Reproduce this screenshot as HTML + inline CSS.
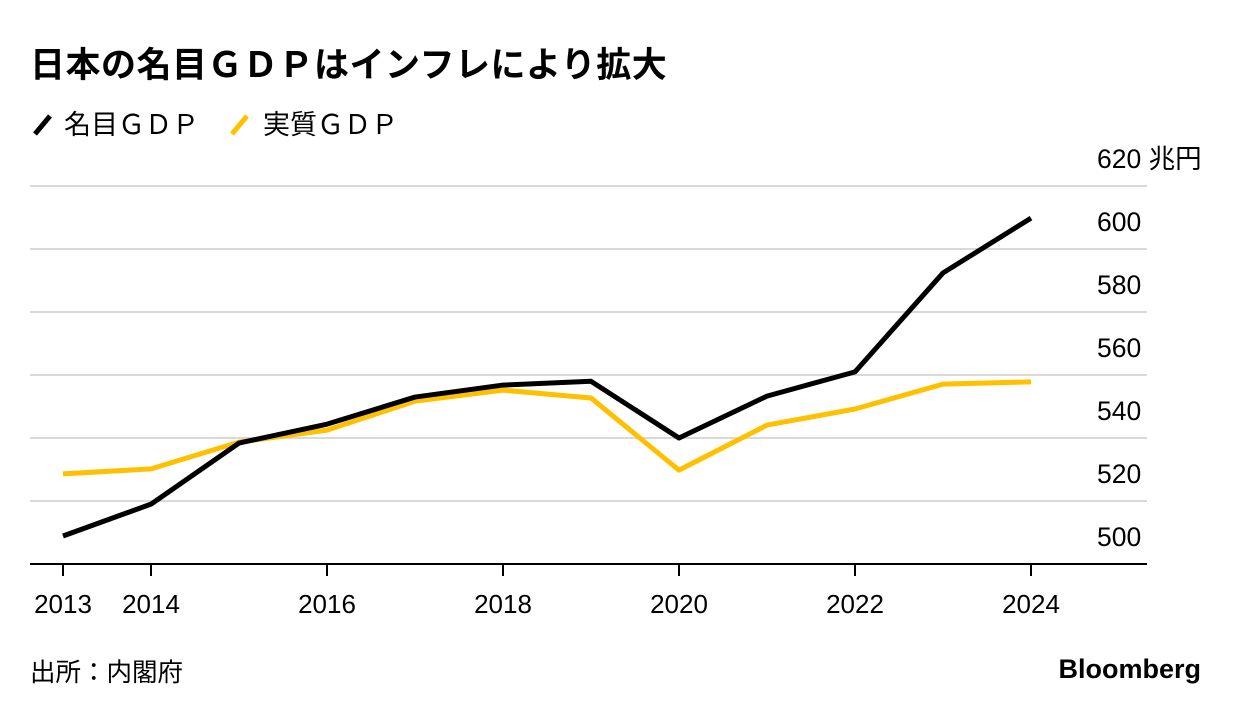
<!DOCTYPE html>
<html><head><meta charset="utf-8">
<style>
body{margin:0;background:#fff;font-family:"Liberation Sans","Noto Sans CJK JP",sans-serif;}
#wrap{position:relative;width:1240px;height:714px;overflow:hidden;}
</style></head>
<body>
<div id="wrap">
<svg id="chart" width="1240" height="714"></svg>
</div>
<script>
const years = [2013,2014,2015,2016,2017,2018,2019,2020,2021,2022,2023,2024];
const nominalGDP = [508.9,519,538.4,544.4,553,556.8,558,540,553.3,561,592.4,609.8];
const realGDP = [528.6,530.2,538.7,542.5,551.7,555.2,552.7,529.8,544.1,549.2,557.1,557.8];
const yTicks = [500,520,540,560,580,600,620];
const xTickYears = [2013,2014,2016,2018,2020,2022,2024];

const NS="http://www.w3.org/2000/svg";
const svg=document.getElementById('chart');
function x(yr){return 63+(yr-2013)*88.0;}
function y(v){return 564-(v-500)*3.15;}
function mk(tag,attrs,parent){const e=document.createElementNS(NS,tag);for(const k in attrs)e.setAttribute(k,attrs[k]);(parent||svg).appendChild(e);return e;}
function txt(s,attrs){const t=mk('text',attrs);t.textContent=s;return t;}

let t=txt('日本の名目ＧＤＰはインフレにより拡大',{x:30,y:77,'font-size':35,'font-weight':'bold',fill:'#000','letter-spacing':0.5});



let l1=mk('line',{x1:35,y1:134,x2:50,y2:116,stroke:'#000','stroke-width':5});


t=txt('名目ＧＤＰ',{x:64,y:134,'font-size':27,fill:'#000'});


let l2=mk('line',{x1:232,y1:134,x2:247,y2:116,stroke:'#ffc000','stroke-width':5});


t=txt('実質ＧＤＰ',{x:263,y:134,'font-size':27,fill:'#000'});



yTicks.forEach(v=>{
  if(v>500){
    const g=mk('line',{x1:30,x2:1147,y1:y(v),y2:y(v),stroke:'#d9d9d9','stroke-width':2});
    
    
  }
  const lab=txt(v===620?'620 兆円':String(v),{x:1097,y:y(v)-18,'font-size':26.5,fill:'#000'});
  
  
});
const ax=mk('line',{x1:30,x2:1147,y1:564,y2:564,stroke:'#000','stroke-width':2});



xTickYears.forEach(yr=>{
  const tk=mk('line',{x1:x(yr),x2:x(yr),y1:564,y2:576,stroke:'#000','stroke-width':2});
  
  
  const lab=txt(String(yr),{x:x(yr),y:613,'font-size':26,'text-anchor':'middle',fill:'#000'});
  
  
});

function series(vals,color,name){
  const d=vals.map((v,i)=>(i?'L':'M')+x(years[i])+','+y(v)).join(' ');
  const p=mk('path',{d:d,fill:'none',stroke:color,'stroke-width':5,'stroke-linejoin':'round'});
  
  
}
series(realGDP,'#ffc000','real-gdp-line');
series(nominalGDP,'#000','nominal-gdp-line');

t=txt('出所：内閣府',{x:30,y:681,'font-size':25.5,fill:'#000'});


t=txt('Bloomberg',{x:1201,y:678,'font-size':27,'font-weight':'bold','text-anchor':'end',fill:'#000'});


</script>
</body></html>
